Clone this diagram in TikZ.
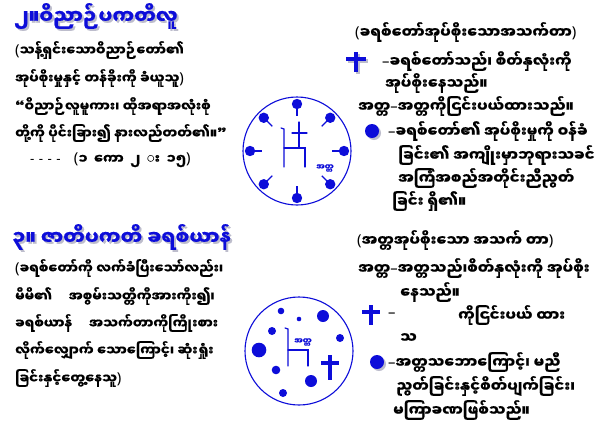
\documentclass[tikz,border=0pt]{standalone}
\usepackage{fontspec}
\usetikzlibrary{calc}
\newfontfamily\mya[Script=Myanmar, BoldFeatures={FakeBold=0.6}]{Noto Sans Myanmar UI}
\newfontfamily\latf{Noto Sans}
% punctuation that the Myanmar font lacks
\newcommand\myl{{\latf\bfseries\fontsize{15}{15}\selectfont(}}
\newcommand\myr{{\latf\bfseries\fontsize{15}{15}\selectfont)}}
\newcommand\mydash{{\latf\bfseries\textendash}}
\newcommand\myhy{{\latf\bfseries -\,\,-\,\,-\,\,-}}
% title with a soft drop shadow
\newcommand\shadowed[1]{\makebox[0pt][l]{\hspace{2pt}\raisebox{-2pt}{\color{shadowgray}#1}}#1}
\definecolor{throneblue}{rgb}{0.05, 0.05, 0.85}
\definecolor{shadowgray}{rgb}{0.74, 0.74, 0.80}

\tikzset{
    txt/.style={font=\mya\bfseries\fontsize{13.3}{15}\selectfont, anchor=west, inner sep=0pt, text=black},
    rtxt/.style={txt, font=\mya\bfseries\fontsize{14.8}{16}\selectfont},
    ttl/.style={font=\mya\bfseries\fontsize{19.5}{21}\selectfont, anchor=west, inner sep=0pt, text=throneblue},
    selftag/.style={font=\mya\bfseries\fontsize{8}{9}\selectfont, text=throneblue, inner sep=0pt},
    ring/.style={draw=throneblue, line width=1.1pt},
    bluedot/.style={fill=throneblue, draw=none},
    dotshadow/.style={fill=shadowgray, draw=none},
    stem/.style={draw=throneblue, line width=1.4pt},
    crossbar/.style={draw=throneblue, line width=3.5pt},
    throne/.style={draw=throneblue, line width=1.2pt, line cap=round}
}

\begin{document}
\begin{tikzpicture}[x=1pt, y=-1pt]
    \useasboundingbox[fill=white] (0,0) rectangle (600,445);

    % Left column, upper part
    \node[ttl] (ttl-a) at (14,17) {\shadowed{၂။ဝိညာဉ်ပကတိလူ}};
    \node[txt] (left-1) at (15,50) {\myl သန့်ရှင်းသောဝိညာဉ်တော်၏};
    \node[txt] (left-2) at (15,78) {အုပ်စိုးမှုနှင့် တန်ခိုးကို ခံယူသူ\myr};
    \node[txt] (left-3) at (15,106) {“ဝိညာဉ်လူမူကား၊ ထိုအရာအလုံးစုံ};
    \node[txt] (left-4) at (15,133) {တို့ကို ပိုင်းခြား၍ နားလည်တတ်၏။”};
    \node[txt] (left-5) at (30,160) {\myhy\quad\myl ၁\enspace ကော\enspace ၂\enspace း\enspace ၁၅\myr};

    % Left column, lower part
    \node[ttl] (ttl-b) at (12,238) {\shadowed{၃။ ဇာတိပကတိ ခရစ်ယာန်}};
    \node[txt] (left-6) at (15,268) {\myl ခရစ်တော်ကို လက်ခံပြီးသော်လည်း၊};
    \node[txt] (left-7) at (15,296) {မိမိ၏ \quad အစွမ်းသတ္တိကိုအားကိုး၍၊};
    \node[txt] (left-8) at (15,323) {ခရစ်ယာန် \quad အသက်တာကိုကြိုးစား};
    \node[txt] (left-9) at (15,350) {လိုက်လျှောက် သောကြောင့်၊ ဆုံးရှုံး};
    \node[txt] (left-10) at (15,378) {ခြင်းနှင့်တွေ့နေသူ\myr};

    % Upper circle: the throne with the cross, self at the side
    \coordinate (top-c) at (297,151);
    \draw[ring] (top-c) circle (54);
    \foreach \ang in {90,45,0,-45,-90,-135,180,135} {
        \draw[stem] ($(top-c)+(\ang:47)$) -- ($(top-c)+(\ang:35)$);
        \fill[bluedot] ($(top-c)+(\ang:47)$) circle (5.2);
    }
    \draw[throne] (299,122) -- (299,148);
    \draw[throne] (292,133) -- (307,133);
    \draw[throne] (281,128) -- (284,129) -- (284,167);
    \draw[throne] (284,148) -- (305,148) -- (305,167);
    \node[selftag] (top-self) at (325,168) {အတ္တ};

    % Lower circle: self on the throne, cross pushed aside
    \coordinate (bot-c) at (299,351);
    \draw[ring] (bot-c) circle (54);
    \draw[throne] (285,328) -- (288,329) -- (288,366);
    \draw[throne] (288,350) -- (308,350) -- (308,366);
    \node[selftag] (bot-self) at (303,342) {အတ္တ};
    \draw[crossbar, line width=4pt] (330,355) -- (330,380);
    \draw[crossbar, line width=4pt] (321,363) -- (339,363);
    \foreach \px/\py/\rad in {281/311/3.3, 299/319/2.3, 323/316/6, 272/331/4, 340/338/4, 259/350/7.3, 276/370/4.3, 311/381/6, 283/393/4} {
        \fill[bluedot] (\px,\py) circle (\rad);
    }

    % Right column, upper part
    \node[rtxt] (right-0) at (355,32) {\myl ခရစ်တော်အုပ်စိုးသောအသက်တာ\myr};
    \draw[crossbar, shadowgray] (358,54) -- (358,74);
    \draw[crossbar, shadowgray] (348,61) -- (368,61);
    \draw[crossbar] (356,52) -- (356,72);
    \draw[crossbar] (346,59) -- (366,59);
    \node[rtxt] (right-1) at (382,61) {\mydash ခရစ်တော်သည်၊ စိတ်နှလုံးကို};
    \node[rtxt] (right-2) at (385,83) {အုပ်စိုးနေသည်။};
    \node[rtxt] (right-3) at (358,106) {အတ္တ\mydash အတ္တကိုငြင်းပယ်ထားသည်။};
    \fill[dotshadow] (374,133) circle (7);
    \fill[bluedot] (372,131) circle (7);
    \node[rtxt] (right-4) at (388,131) {\mydash ခရစ်တော်၏ အုပ်စိုးမှုကို ဝန်ခံ};
    \node[rtxt] (right-5) at (398,155) {ခြင်း၏ အကျိုးမှာဘုရားသခင်};
    \node[rtxt] (right-6) at (398,178) {အကြံအစည်အတိုင်းညီညွတ်};
    \node[rtxt] (right-7) at (392,201) {ခြင်း ရှိ၏။};

    % Right column, lower part
    \node[rtxt] (right-8) at (357,240) {\myl အတ္တအုပ်စိုးသော အသက် တာ\myr};
    \node[rtxt] (right-9) at (358,268) {အတ္တ\mydash အတ္တသည်၊စိတ်နှလုံးကို အုပ်စိုး};
    \node[rtxt] (right-10) at (400,292) {နေသည်။};
    \draw[crossbar] (371,305) -- (371,325);
    \draw[crossbar] (362,312) -- (380,312);
    \node[rtxt] (right-11) at (388,315) {\mydash};
    \node[rtxt] (right-12) at (458,315) {ကိုငြင်းပယ် ထား};
    \node[rtxt] (right-13) at (400,338) {သ};
    \fill[dotshadow] (379,364) circle (7);
    \fill[bluedot] (377,362) circle (7);
    \node[rtxt] (right-14) at (388,362) {\mydash အတ္တသဘောကြောင့်၊ မညီ};
    \node[rtxt] (right-15) at (396,386) {ညွတ်ခြင်းနှင့်စိတ်ပျက်ခြင်း၊};
    \node[rtxt] (right-16) at (393,410) {မကြာခဏဖြစ်သည်။};
\end{tikzpicture}
\end{document}
